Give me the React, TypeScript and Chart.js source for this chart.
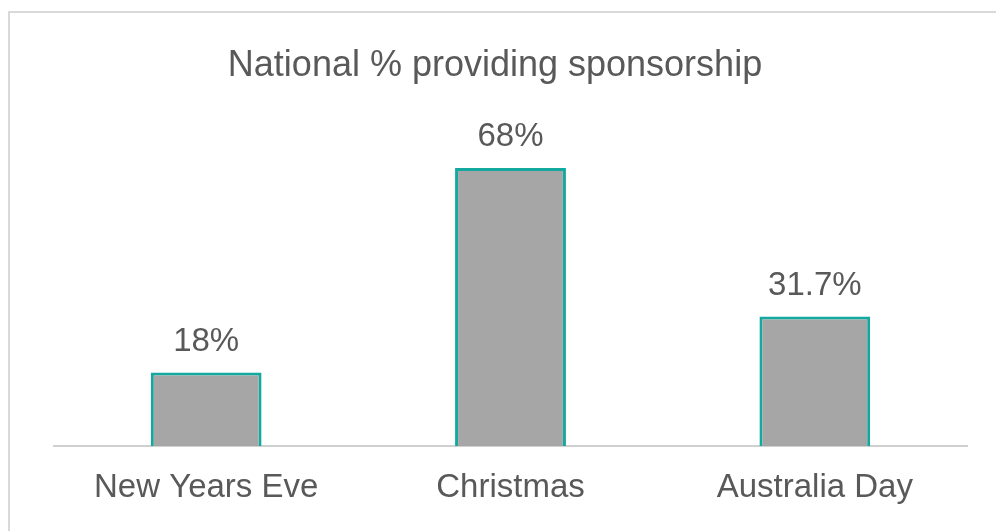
import React, { useEffect, useRef } from "react";
import { Chart, registerables } from "chart.js";

Chart.register(...registerables);

const categories = ["New Years Eve", "Christmas", "Australia Day"];
const values = [18, 68, 31.7];
const chartTitle = "National % providing sponsorship";

const FONT = "'Liberation Sans', Arial, sans-serif";
const TEXT = "#595959";

const dataLabelPlugin = {
  id: "dataLabels",
  afterDatasetsDraw(chart: any) {
    const ctx = chart.ctx;
    const meta = chart.getDatasetMeta(0);
    ctx.save();
    ctx.fillStyle = TEXT;
    ctx.font = `33px ${FONT}`;
    ctx.textAlign = "center";
    ctx.textBaseline = "middle";
    meta.data.forEach((bar: any, i: number) => {
      ctx.fillText(`${values[i]}%`, bar.x, bar.y - 31);
    });
    ctx.restore();
  },
};

const titlePlugin = {
  id: "manualTitle",
  afterDraw(chart: any) {
    const ctx = chart.ctx;
    ctx.save();
    ctx.fillStyle = TEXT;
    ctx.font = `36px ${FONT}`;
    ctx.textAlign = "center";
    ctx.textBaseline = "middle";
    ctx.fillText(chartTitle, 495, 66);
    ctx.restore();
  },
};

export default function App() {
  const ref = useRef<HTMLCanvasElement | null>(null);
  useEffect(() => {
    const c = ref.current;
    if (!c) return;
    const chart = new Chart(c, {
      type: "bar",
      data: {
        labels: categories,
        datasets: [
          {
            data: values,
            backgroundColor: "#a6a6a6",
            borderColor: "#14a99e",
            borderWidth: 3,
            barPercentage: 0.364,
            categoryPercentage: 1,
          },
        ],
      },
      options: {
        responsive: false,
        animation: false,
        layout: { padding: { left: 54, right: 29, top: 119, bottom: 25 } },
        plugins: {
          legend: { display: false },
          tooltip: { enabled: false },
          title: { display: false },
        },
        scales: {
          x: {
            grid: { display: false, drawTicks: false },
            border: { display: true, color: "#d0d0d0", width: 2 },
            ticks: {
              color: TEXT,
              font: { family: FONT, size: 33 },
              padding: 22,
              maxRotation: 0,
            },
            afterFit: (scale: any) => {
              scale.height = 60;
            },
          },
          y: {
            display: false,
            min: 0,
            max: 80,
          },
        },
      },
      plugins: [dataLabelPlugin, titlePlugin],
    });
    return () => chart.destroy();
  }, []);

  return (
    <div style={{ position: "fixed", left: 0, top: 0, width: 996, height: 531, overflow: "hidden", background: "#fff" }}>
      <canvas ref={ref} width={996} height={531} style={{ position: "absolute", left: 0, top: 0 }} />
      <div
        style={{
          position: "absolute",
          left: 8,
          top: 11,
          width: 1200,
          height: 800,
          borderTop: "2px solid #d9d9d9",
          borderLeft: "2px solid #d9d9d9",
          pointerEvents: "none",
        }}
      />
    </div>
  );
}
